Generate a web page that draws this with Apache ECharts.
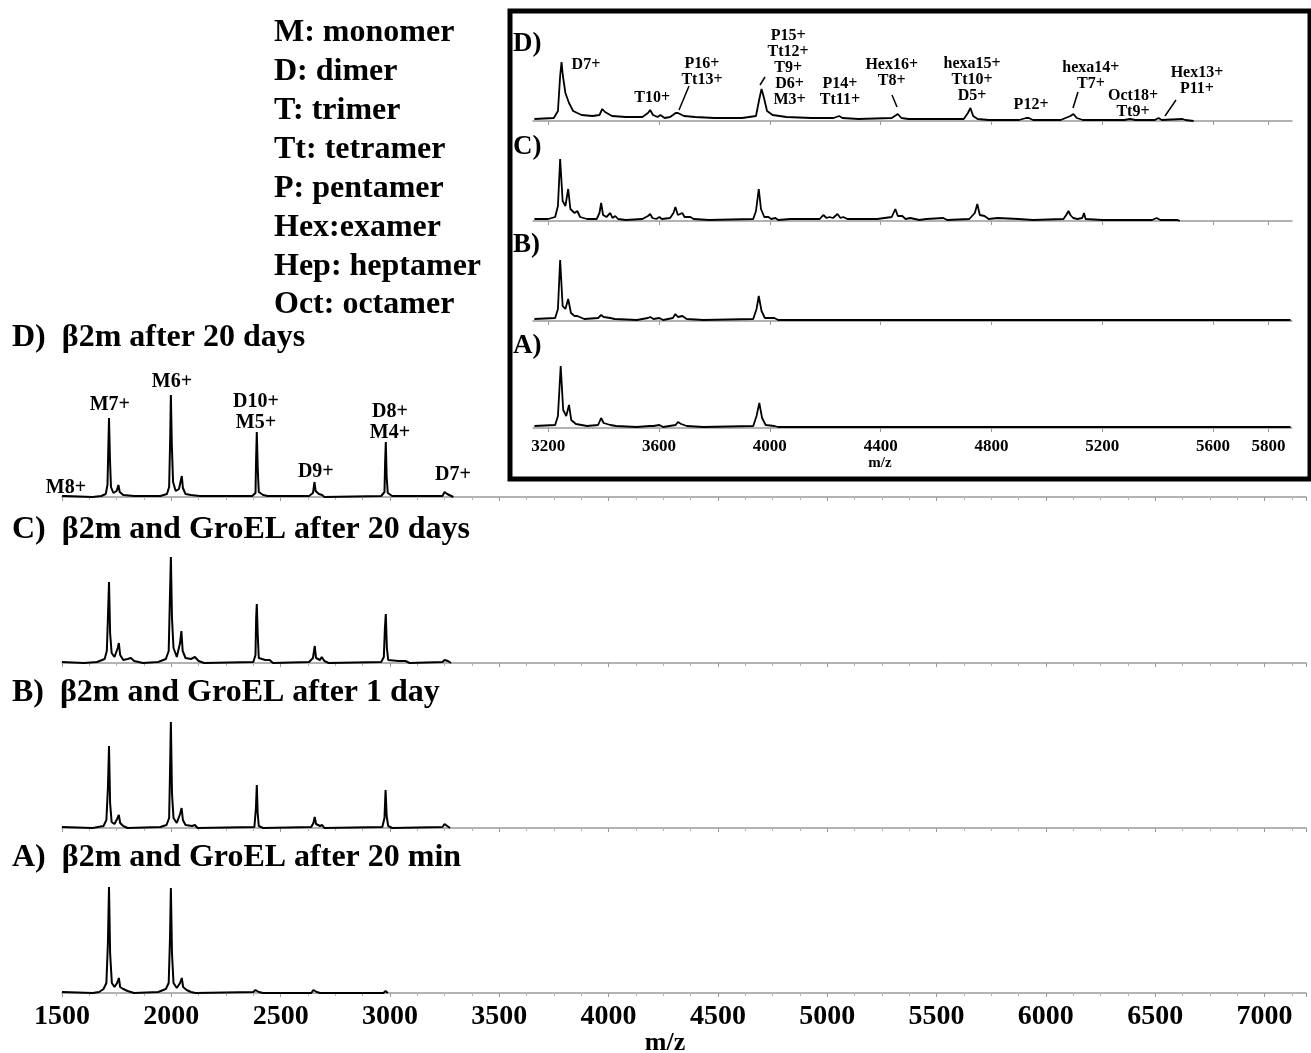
<!DOCTYPE html>
<html>
<head>
<meta charset="utf-8">
<script src="https://cdn.jsdelivr.net/npm/echarts@6/dist/echarts.min.js"></script>
<style>
  html, body { margin: 0; padding: 0; background: #fff; }
  #spectra { width: 1311px; height: 1053px; }
</style>
</head>
<body>
<div id="spectra"></div>
<script>
// ---- data: [m/z, relative intensity] ----
const mainTicks = [1500, 2000, 2500, 3000, 3500, 4000, 4500, 5000, 5500, 6000, 6500, 7000];
const insetTicks = [3200, 3600, 4000, 4400, 4800, 5200, 5600, 5800];

const legendLines = ['M: monomer', 'D: dimer', 'T: trimer', 'Tt: tetramer', 'P: pentamer',
  'Hex:examer', 'Hep: heptamer', 'Oct: octamer'];
const panelTitles = ['D)  β2m after 20 days', 'C)  β2m and GroEL after 20 days',
  'B)  β2m and GroEL after 1 day', 'A)  β2m and GroEL after 20 min'];
const insetTitles = ['D)', 'C)', 'B)', 'A)'];

const mainD = [[1500,1],[1505,3],[1515,1],[1640,0],[1680,1],[1700,3],[1708,12],[1712,50],[1715,79],[1719,40],[1724,10],[1735,4],[1750,6],[1758,12],[1764,5],[1780,2],[1830,1],[1950,1],[1980,3],[1990,10],[1995,60],[1998,102],[2002,55],[2008,15],[2020,6],[2035,8],[2045,18],[2048,21],[2053,9],[2065,3],[2090,2],[2130,1],[2370,1],[2385,4],[2388,40],[2391,65],[2395,30],[2400,5],[2420,2],[2440,1],[2630,1],[2648,4],[2655,15],[2660,6],[2675,3],[2690,2],[2700,0],[2960,1],[2975,5],[2978,35],[2981,55],[2985,20],[2990,4],[3010,1],[3240,1],[3250,5],[3256,7],[3262,3],[3270,1],[3290,0]];
const mainC = [[1500,1],[1600,0],[1660,1],[1695,4],[1705,12],[1710,45],[1715,81],[1720,30],[1727,10],[1740,6],[1755,15],[1760,20],[1766,8],[1780,3],[1800,4],[1815,5],[1830,2],[1870,0],[1940,1],[1975,4],[1988,12],[1993,60],[1998,106],[2003,45],[2010,15],[2025,6],[2040,20],[2046,32],[2052,12],[2065,5],[2090,4],[2108,6],[2125,2],[2150,0],[2375,1],[2385,8],[2388,45],[2391,59],[2395,30],[2400,5],[2430,3],[2450,3],[2465,0],[2630,1],[2648,5],[2656,17],[2662,5],[2680,3],[2688,6],[2700,2],[2720,0],[2960,1],[2972,6],[2977,35],[2981,49],[2986,15],[2992,3],[3040,2],[3071,2],[3090,0],[3240,1],[3250,3],[3256,4],[3265,2],[3280,0]];
const mainB = [[1500,1],[1640,0],[1690,2],[1703,8],[1710,40],[1715,82],[1720,25],[1727,6],[1740,4],[1752,9],[1760,13],[1766,5],[1780,2],[1800,0],[1950,1],[1978,3],[1990,10],[1994,55],[1998,106],[2003,35],[2010,10],[2025,5],[2040,14],[2047,20],[2053,8],[2065,3],[2095,2],[2108,3],[2120,0],[2380,1],[2387,20],[2391,43],[2395,15],[2400,2],[2420,0],[2640,1],[2650,5],[2656,11],[2662,4],[2680,2],[2690,3],[2700,0],[2965,1],[2975,10],[2980,38],[2985,12],[2992,2],[3010,0],[3240,1],[3250,4],[3256,5],[3262,2],[3275,0]];
const mainA = [[1500,1],[1640,0],[1670,1],[1690,4],[1703,10],[1710,50],[1715,106],[1720,40],[1728,10],[1740,6],[1752,10],[1760,15],[1766,6],[1780,4],[1800,2],[1830,0],[1940,1],[1975,4],[1988,10],[1994,55],[1998,105],[2003,40],[2010,10],[2025,5],[2040,10],[2048,15],[2054,6],[2070,3],[2090,1],[2110,0],[2375,1],[2385,3],[2391,3],[2400,1],[2420,0],[2640,0],[2650,3],[2656,3],[2665,1],[2680,0],[2970,0],[2980,2],[2990,0]];

const insetD = [[3150,2],[3220,3],[3235,10],[3243,45],[3248,59],[3253,45],[3262,28],[3268,28],[3275,18],[3290,10],[3320,6],[3360,5],[3385,6],[3395,12],[3405,9],[3430,5],[3480,4],[3540,4],[3560,8],[3568,11],[3578,6],[3595,4],[3605,6],[3620,3],[3640,4],[3660,8],[3668,8],[3690,5],[3730,4],[3800,3],[3900,3],[3950,5],[3962,22],[3970,32],[3978,24],[3990,10],[4010,6],[4060,4],[4150,3],[4230,3],[4250,5],[4262,3],[4320,2],[4440,3],[4462,7],[4475,3],[4500,2],[4600,2],[4700,2],[4715,8],[4724,13],[4734,5],[4750,2],[4790,1],[4900,1],[4925,3],[4935,3],[4950,1],[5050,1],[5085,5],[5096,7],[5108,3],[5130,1],[5280,1],[5300,2],[5320,1],[5390,1],[5403,3],[5415,1],[5490,2],[5500,1],[5530,0]];
const insetC = [[3150,2],[3200,2],[3225,4],[3235,15],[3243,62],[3252,20],[3262,15],[3272,32],[3280,12],[3295,8],[3305,10],[3315,4],[3340,2],[3375,2],[3385,8],[3391,18],[3398,6],[3410,4],[3424,8],[3432,3],[3442,5],[3452,2],[3480,1],[3540,2],[3560,5],[3568,7],[3576,3],[3590,2],[3601,4],[3610,2],[3640,3],[3652,8],[3659,14],[3668,6],[3675,5],[3684,8],[3692,4],[3713,4],[3725,2],[3780,1],[3940,2],[3950,10],[3960,32],[3968,12],[3980,4],[3995,4],[4005,2],[4020,3],[4030,1],[4074,2],[4117,2],[4180,2],[4193,6],[4205,3],[4215,4],[4228,3],[4244,7],[4255,3],[4265,4],[4280,2],[4323,2],[4388,2],[4440,4],[4453,12],[4462,5],[4478,5],[4490,2],[4507,3],[4540,1],[4565,2],[4626,3],[4640,1],[4720,2],[4740,8],[4749,17],[4758,6],[4775,5],[4790,2],[4822,3],[4897,2],[4950,1],[5060,2],[5070,6],[5078,10],[5085,6],[5095,3],[5110,2],[5128,3],[5134,8],[5140,2],[5200,1],[5300,1],[5380,1],[5396,3],[5410,1],[5472,1],[5480,0]];
const insetB = [[3150,2],[3225,3],[3235,12],[3243,61],[3252,15],[3262,12],[3272,22],[3282,8],[3295,5],[3305,5],[3330,2],[3380,3],[3391,6],[3400,4],[3424,3],[3440,2],[3520,1],[3560,3],[3568,4],[3580,2],[3601,3],[3615,1],[3650,3],[3659,7],[3668,4],[3684,5],[3700,2],[3760,1],[3940,2],[3952,12],[3960,25],[3970,10],[3982,3],[4016,3],[4030,1],[4200,1],[4300,1],[4450,1],[4750,1],[5000,1],[5300,1],[5500,1],[5880,1]];
const insetA = [[3150,2],[3225,3],[3235,12],[3245,62],[3254,18],[3265,12],[3275,23],[3283,8],[3300,4],[3340,2],[3380,3],[3391,10],[3400,5],[3424,3],[3445,2],[3520,1],[3565,2],[3570,3],[3580,2],[3601,3],[3615,1],[3660,3],[3668,6],[3680,4],[3686,4],[3700,2],[3760,1],[3940,2],[3952,12],[3962,25],[3972,10],[3985,3],[4016,2],[4030,1],[4300,1],[4700,1],[5000,1],[5300,1],[5880,1]];

// peak annotations: [text, m/z, intensity]
const mainDPeaks = [['M8+',1518,9],['M7+',1719,92],['M6+',2003,115],['D10+\nM5+',2387,85],
  ['D9+',2661,25],['D8+\nM4+',3000,75],['D7+',3288,22]];
const insetDPeaks = [['D7+',3336,56],['T10+',3575,23],['P16+\nTt13+',3755,49],
  ['P15+\nTt12+\nT9+',4066,69],['D6+\nM3+',4071,29],['P14+\nTt11+',4253,29],
  ['Hex16+\nT8+',4440,48],['hexa15+\nTt10+\nD5+',4730,41],['P12+',4943,16],
  ['hexa14+\nT7+',5159,45],['Oct18+\nTt9+',5311,17],['Hex13+\nP11+',5542,40]];

// ---- layout ----
const FONT = 'Liberation Serif';
const mainBase = [497, 663, 828, 993];
const insetBase = [121, 221, 321, 428];
const MAIN_H = 135, INSET_H = 100;
const mainSpectra = [mainD, mainC, mainB, mainA];
const insetSpectra = [insetD, insetC, insetB, insetA];

const grids = [], xAxes = [], yAxes = [], series = [];

function addPanel(data, top, h, left, right, xmin, xmax, isMain, bottom, peaks, fs, lh) {
  const gi = grids.length;
  grids.push({ left: left, right: right, top: top, height: h });
  const axisCol = '#9a9a9a';
  const xa = {
    gridIndex: gi, type: 'value', min: xmin, max: xmax,
    axisLine: { show: true, lineStyle: { color: axisCol, width: 1.5 } },
    axisTick: { show: true, length: 4, lineStyle: { color: axisCol } },
    splitLine: { show: false },
    axisLabel: {
      show: bottom, color: '#000', fontFamily: FONT, fontWeight: 'bold',
      fontSize: isMain ? 28 : 17, margin: isMain ? 10 : 10,
      formatter: v => String(v)
    }
  };
  if (isMain) {
    xa.interval = 500;
    xa.minorTick = { show: true, splitNumber: 4, length: 3, lineStyle: { color: '#b5b5b5' } };
    xa.axisLabel.customValues = mainTicks;
  } else {
    xa.axisTick.customValues = insetTicks;
    xa.axisLabel.customValues = insetTicks;
  }
  xAxes.push(xa);
  yAxes.push({ gridIndex: gi, type: 'value', min: 0, max: h, show: false });
  const s = {
    type: 'line', xAxisIndex: gi, yAxisIndex: gi, data: data,
    showSymbol: false, symbol: 'none', animation: false, clip: false,
    lineStyle: { color: '#000', width: isMain ? 2 : 1.8 }
  };
  if (peaks) {
    s.markPoint = {
      silent: true, animation: false, symbol: 'rect', symbolSize: 1,
      itemStyle: { color: 'transparent' },
      label: {
        show: true, position: 'inside', color: '#000', fontFamily: FONT,
        fontWeight: 'bold', fontSize: fs, lineHeight: lh,
        formatter: p => p.name
      },
      data: peaks.map(p => ({ name: p[0], coord: [p[1], p[2]] }))
    };
  }
  series.push(s);
}

for (let i = 0; i < 4; i++) {
  addPanel(mainSpectra[i], mainBase[i] - MAIN_H, MAIN_H, 62, 5, 1500, 7190, true, i === 3,
    i === 0 ? mainDPeaks : null, 20, 21);
}
for (let i = 0; i < 4; i++) {
  addPanel(insetSpectra[i], insetBase[i] - INSET_H, INSET_H, 533, 19, 3145, 5885, false, i === 3,
    i === 0 ? insetDPeaks : null, 16, 16);
}

const txt = (t, x, y, size, align) => ({
  type: 'text', x: x, y: y, z: 10,
  style: { text: t, fontFamily: FONT, fontWeight: 'bold', fontSize: size,
    fill: '#000', align: align || 'left', verticalAlign: 'middle' }
});
const slash = (x1, y1, x2, y2) => ({
  type: 'line', z: 10, shape: { x1: x1, y1: y1, x2: x2, y2: y2 },
  style: { stroke: '#000', lineWidth: 1.5 }
});

const graphic = [];
const legendY = [33, 72, 111, 150, 189, 228, 267, 305];
legendLines.forEach((t, i) => graphic.push(txt(t, 274, legendY[i], 32)));
const titleY = [338, 530, 693, 858];
panelTitles.forEach((t, i) => graphic.push(txt(t, 12, titleY[i], 32)));
const insetTitleY = [44, 147, 245, 346];
insetTitles.forEach((t, i) => graphic.push(txt(t, 513, insetTitleY[i], 27)));
graphic.push(txt('m/z', 665, 1043, 26, 'center'));
graphic.push(txt('m/z', 880, 463, 15, 'center'));
graphic.push({
  type: 'rect', z: 9, shape: { x: 510, y: 11, width: 800, height: 468 },
  style: { fill: 'none', stroke: '#000', lineWidth: 5 }
});
graphic.push(slash(689, 86, 679, 110));
graphic.push(slash(765, 77, 760, 85));
graphic.push(slash(892, 95, 897, 107));
graphic.push(slash(1078, 92, 1073, 108));
graphic.push(slash(1176, 100, 1165, 116));

const chart = echarts.init(document.getElementById('spectra'));
chart.setOption({
  backgroundColor: '#fff',
  animation: false,
  grid: grids,
  xAxis: xAxes,
  yAxis: yAxes,
  series: series,
  graphic: graphic
});
</script>
</body>
</html>
